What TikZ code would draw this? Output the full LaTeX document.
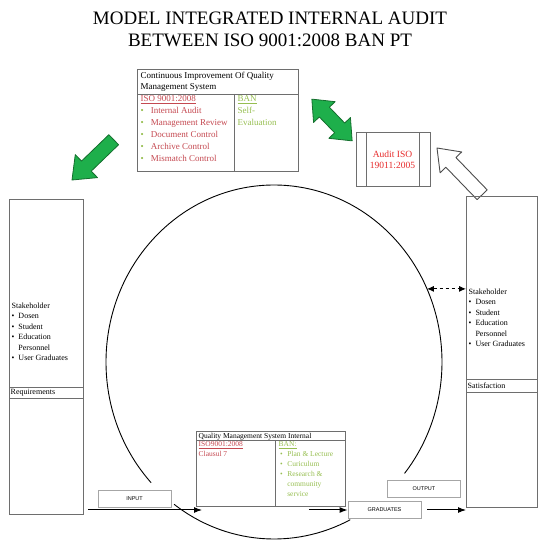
\documentclass[tikz,border=0pt]{standalone}
\usepackage{fontspec}
\setmainfont{Liberation Serif}
\setsansfont{Liberation Sans}
\usetikzlibrary{arrows.meta}
\definecolor{isored}{RGB}{196,72,80}
\definecolor{auditred}{RGB}{230,40,40}
\definecolor{bangreen}{RGB}{150,190,80}
\definecolor{blockgreen}{RGB}{30,175,75}
\definecolor{blockedge}{RGB}{20,110,45}
\definecolor{boxgray}{RGB}{110,110,110}
\tikzstyle{panel}=[draw=boxgray, line width=0.8pt, inner sep=0pt, anchor=south west]
\tikzstyle{boxline}=[draw=boxgray, line width=0.8pt]
\tikzstyle{tag}=[draw=gray!70, line width=0.9pt, minimum width=73pt, minimum height=17pt, inner sep=0pt, font=\sffamily\fontsize{5.5}{6}\selectfont]
\tikzstyle{txt}=[inner sep=1.5pt, align=left, anchor=north west]
\tikzstyle{flow}=[-{Latex[length=8pt,width=6pt]}, line width=1pt]
\tikzstyle{greenarrow}=[fill=blockgreen, draw=blockedge, line width=0.8pt, line join=round]
\newcommand{\bul}[2]{\textcolor{#1}{\textbullet}\hspace{#2}}

\begin{document}
\begin{tikzpicture}[x=1pt, y=1pt]
\useasboundingbox (0,0) rectangle (538,542);
\node[align=center, font=\fontsize{19}{22}\selectfont] at (270,513) (title) {MODEL INTEGRATED INTERNAL AUDIT\\BETWEEN ISO 9001:2008 BAN PT};

\node[panel, minimum width=161pt, minimum height=102pt] at (137,370) (ci) {};
\draw[boxline] (137,448) -- (298,448);
\draw[boxline] (234,448) -- (234,370);
\node[txt, font=\fontsize{9}{11.5}\selectfont] at (139,472) (cihead) {Continuous Improvement Of Quality\\Management System};
\node[txt, text=isored, font=\fontsize{9}{12}\selectfont] at (139,448) (ciiso) {\underline{ISO 9001:2008}\\ \bul{bangreen}{7pt}Internal Audit\\ \bul{bangreen}{7pt}Management Review\\ \bul{bangreen}{7pt}Document Control\\ \bul{bangreen}{7pt}Archive Control\\ \bul{bangreen}{7pt}Mismatch Control};
\node[txt, text=bangreen, font=\fontsize{9}{12}\selectfont] at (236,448) (ciban) {\underline{BAN}\\Self-\\Evaluation};

\draw[greenarrow, shift={(72,362)}, rotate=44] (0,0) -- (20,16) -- (20,7) -- (58,7) -- (58,-7) -- (20,-7) -- (20,-16) -- cycle;
\draw[greenarrow, shift={(332,422)}, rotate=-46] (-29,0) -- (-11,15) -- (-11,7) -- (11,7) -- (11,15) -- (29,0) -- (11,-15) -- (11,-7) -- (-11,-7) -- (-11,-15) -- cycle;
\draw[fill=white, draw=gray!60!black, line width=0.9pt, line join=round, shift={(437,394)}, rotate=-46] (0,0) -- (20,15) -- (20,7) -- (65,7) -- (65,-7) -- (20,-7) -- (20,-15) -- cycle;

\node[panel, minimum width=74pt, minimum height=54pt] at (356,355) (audit) {};
\draw[boxline] (366,355) -- (366,409);
\draw[boxline] (419,355) -- (419,409);
\node[font=\fontsize{9.5}{11}\selectfont, text=auditred, align=center] at (392.5,382) (audittxt) {Audit ISO\\19011:2005};

\node[panel, minimum width=74pt, minimum height=315pt] at (9,27) (req) {};
\draw[boxline] (9,155) -- (83,155);
\draw[boxline] (9,144) -- (83,144);
\node[font=\fontsize{8}{9}\selectfont, anchor=west, inner sep=1.5pt] at (9,149.5) (reqtxt) {Requirements};
\node[txt, font=\fontsize{8}{10.5}\selectfont] at (10,241) (reqstake) {Stakeholder\\ \bul{black}{4pt}Dosen\\ \bul{black}{4pt}Student\\ \bul{black}{4pt}Education\\ \hphantom{\bul{black}{4pt}}Personnel\\ \bul{black}{4pt}User Graduates};

\node[panel, minimum width=71pt, minimum height=311pt] at (466,34) (sat) {};
\draw[boxline] (466,163) -- (537,163);
\draw[boxline] (466,150) -- (537,150);
\node[font=\fontsize{8}{9}\selectfont, anchor=west, inner sep=1.5pt] at (466,156.5) (sattxt) {Satisfaction};
\node[txt, font=\fontsize{8}{10.5}\selectfont] at (467,255) (satstake) {Stakeholder\\ \bul{black}{4pt}Dosen\\ \bul{black}{4pt}Student\\ \bul{black}{4pt}Education\\ \hphantom{\bul{black}{4pt}}Personnel\\ \bul{black}{4pt}User Graduates};

\coordinate (cc) at (274,180);
\draw[line width=0.9pt] (cc) ++(223:168pt and 177pt) arc[start angle=223, end angle=-39, x radius=168pt, y radius=177pt];
\draw[line width=0.9pt] (cc) ++(233.5:168pt and 177pt) arc[start angle=233.5, end angle=297, x radius=168pt, y radius=177pt];
\path (cc) ++(24.4:168pt and 177pt) coordinate (dashL);
\draw[{Latex[length=7pt,width=6pt]}-{Latex[length=7pt,width=6pt]}, dashed, line width=0.9pt] (dashL) -- (sat.west |- dashL);

\node[panel, minimum width=149pt, minimum height=75pt] at (196,35) (qms) {};
\draw[boxline] (196,102) -- (345,102);
\draw[boxline] (275,102) -- (275,35);
\node[txt, font=\fontsize{7.5}{9}\selectfont] at (197,110.5) (qmshead) {Quality Management System Internal};
\node[txt, text=isored, font=\fontsize{7.5}{10}\selectfont] at (197,102) (qmsiso) {\underline{ISO9001:2008}\\Clausul 7};
\node[txt, text=bangreen, font=\fontsize{7.5}{10}\selectfont] at (277,102) (qmsban) {\underline{BAN:}\\ \hspace*{1.5pt}\bul{bangreen}{4.5pt}Plan \& Lecture\\ \hspace*{1.5pt}\bul{bangreen}{4.5pt}Curiculum\\ \hspace*{1.5pt}\bul{bangreen}{4.5pt}Research \&\\ \hspace*{1.5pt}\hphantom{\bul{bangreen}{4.5pt}}community\\ \hspace*{1.5pt}\hphantom{\bul{bangreen}{4.5pt}}service};

\node[tag] at (134.5,43) (input) {INPUT};
\node[tag] at (424,53.5) (output) {OUTPUT};
\node[tag] at (384.5,32) (grad) {GRADUATES};

\draw[flow] ([shift={(4pt,5pt)}]req.south east) -- ([shift={(6pt,-3pt)}]qms.south west);
\draw[flow] ([shift={(-37pt,-3pt)}]qms.south east) -- (grad.west);
\draw[flow] ([xshift=6pt]grad.east) -- ([yshift=-2pt]sat.south west);
\end{tikzpicture}
\end{document}
